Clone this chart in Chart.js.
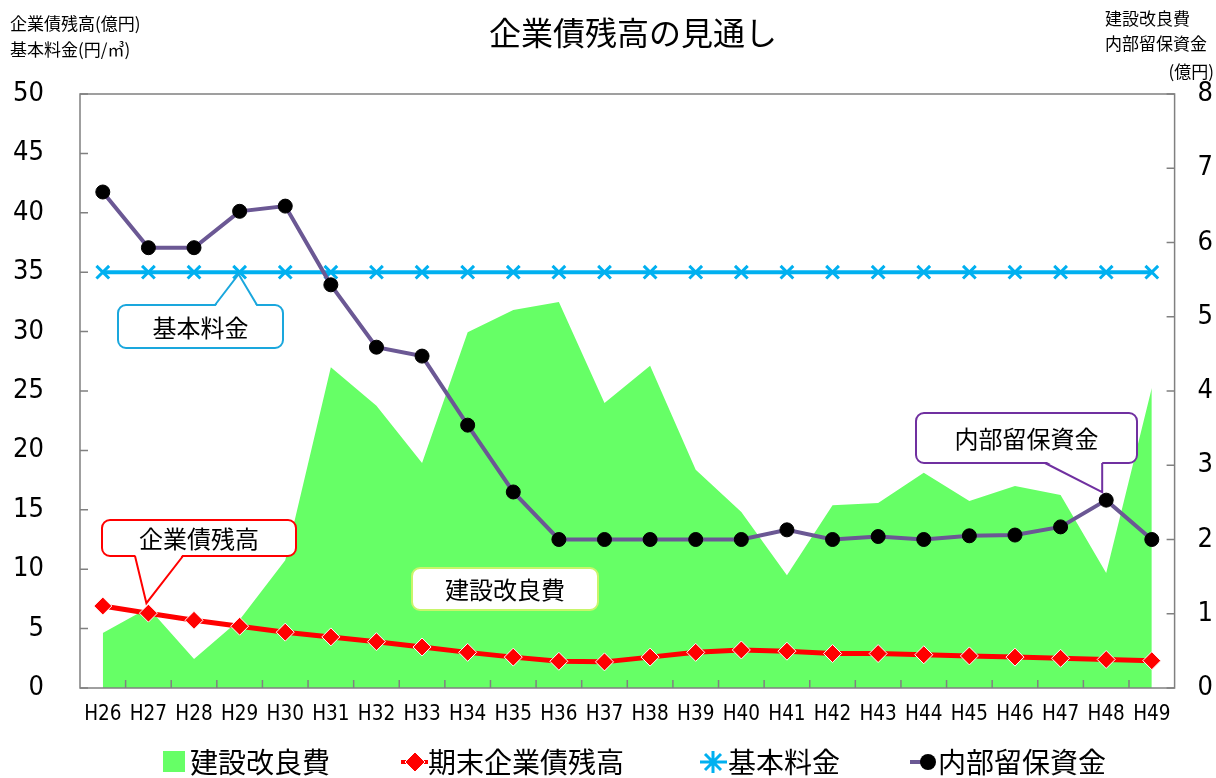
<!DOCTYPE html>
<html><head><meta charset="utf-8">
<script src="https://cdn.jsdelivr.net/npm/chart.js@4"></script>
<style>html,body{margin:0;padding:0;background:#fff}#wrap{width:1216px;height:778px}</style>
</head><body><div id="wrap"><canvas id="c" width="1216" height="778"></canvas></div>
<script>
const categories = ['H26','H27','H28','H29','H30','H31','H32','H33','H34','H35','H36','H37','H38','H39','H40','H41','H42','H43','H44','H45','H46','H47','H48','H49'];
// 建設改良費 (億円, right axis)
const capexValues = [0.74,1.08,0.39,0.92,1.72,4.32,3.80,3.03,4.79,5.09,5.20,3.84,4.34,2.94,2.37,1.52,2.46,2.49,2.90,2.52,2.72,2.60,1.55,4.04];
// 期末企業債残高 (億円, left axis)
const debtValues = [6.9,6.3,5.7,5.2,4.7,4.3,3.9,3.45,3.0,2.6,2.25,2.2,2.6,3.0,3.2,3.1,2.9,2.9,2.8,2.7,2.6,2.5,2.4,2.3];
// 基本料金 (円/㎥, left axis)
const basicFeeValues = [35,35,35,35,35,35,35,35,35,35,35,35,35,35,35,35,35,35,35,35,35,35,35,35];
// 内部留保資金 (億円, right axis)
const reserveValues = [6.68,5.93,5.93,6.42,6.49,5.43,4.59,4.47,3.54,2.64,2.0,2.0,2.0,2.0,2.0,2.13,2.0,2.04,2.0,2.05,2.06,2.17,2.53,2.0];
const leftAxisMax = 50, leftAxisStep = 5;
const rightAxisMax = 8, rightAxisStep = 1;
const seriesNames = ['建設改良費','期末企業債残高','基本料金','内部留保資金'];

const JP = "'Noto Sans CJK JP', 'Noto Sans', sans-serif";
const NUM = "'DejaVu Sans Condensed', 'Liberation Sans', sans-serif";
const GREEN = '#66ff66', RED = '#ff0000', BLUE = '#00b0f0', PURPLE = '#6b5894';

function roundRect(ctx, x, y, w, h, r) {
  ctx.beginPath();
  ctx.moveTo(x + r, y);
  ctx.lineTo(x + w - r, y); ctx.arcTo(x + w, y, x + w, y + r, r);
  ctx.lineTo(x + w, y + h - r); ctx.arcTo(x + w, y + h, x + w - r, y + h, r);
  ctx.lineTo(x + r, y + h); ctx.arcTo(x, y + h, x, y + h - r, r);
  ctx.lineTo(x, y + r); ctx.arcTo(x, y, x + r, y, r);
  ctx.closePath();
}
function callout(ctx, b, color, text, pointer) {
  ctx.save();
  ctx.lineWidth = 2; ctx.strokeStyle = color; ctx.fillStyle = '#fff';
  roundRect(ctx, b.x, b.y, b.w, b.h, 8);
  ctx.fill(); ctx.stroke();
  if (pointer) {
    const [p1, tip, p2] = pointer;
    const dir = tip[1] < p1[1] ? 2 : -2;
    ctx.beginPath();
    ctx.moveTo(p1[0], p1[1] + dir); ctx.lineTo(tip[0], tip[1]); ctx.lineTo(p2[0], p2[1] + dir); ctx.closePath();
    ctx.fill();
    ctx.beginPath();
    ctx.moveTo(p1[0], p1[1]); ctx.lineTo(tip[0], tip[1]); ctx.lineTo(p2[0], p2[1]);
    ctx.stroke();
  }
  ctx.fillStyle = '#000'; ctx.font = '24px ' + JP;
  ctx.textAlign = 'center'; ctx.textBaseline = 'middle';
  ctx.fillText(text, b.x + b.w / 2, b.y + b.h / 2 + 1);
  ctx.restore();
}

const decor = {
  id: 'decor',
  beforeDraw(chart) {
    const ctx = chart.ctx; ctx.save(); ctx.fillStyle = '#fff'; ctx.fillRect(0, 0, chart.width, chart.height); ctx.restore();
  },
  afterDatasetsDraw(chart) {
    const ctx = chart.ctx, a = chart.chartArea;
    const x = chart.scales.x, y = chart.scales.y, y1 = chart.scales.y1;
    ctx.save();
    ctx.strokeStyle = '#808080'; ctx.lineWidth = 1.5;
    ctx.strokeRect(a.left, a.top, a.right - a.left, a.bottom - a.top);
    ctx.beginPath();
    for (let v = 0; v <= leftAxisMax; v += leftAxisStep) { const py = y.getPixelForValue(v); ctx.moveTo(a.left, py); ctx.lineTo(a.left + 8, py); }
    for (let v = 0; v <= rightAxisMax; v += rightAxisStep) { const py = y1.getPixelForValue(v); ctx.moveTo(a.right, py); ctx.lineTo(a.right - 8, py); }
    const half = (x.getPixelForValue(1) - x.getPixelForValue(0)) / 2;
    for (let i = 1; i < categories.length; i++) { const px = x.getPixelForValue(i) - half; ctx.moveTo(px, a.bottom); ctx.lineTo(px, a.bottom - 8); }
    ctx.stroke();
    ctx.restore();

    const feePt = [x.getPixelForValue(3), y.getPixelForValue(basicFeeValues[3])];
    callout(ctx, {x: 118, y: 305, w: 165, h: 43}, '#1aa7dd', '基本料金', [[215, 305], [feePt[0] - 1, feePt[1] + 2], [257, 305]]);
    const debtPt = [x.getPixelForValue(1), y.getPixelForValue(debtValues[1])];
    callout(ctx, {x: 102, y: 520, w: 194, h: 36}, RED, '企業債残高', [[135, 556], [debtPt[0] - 2, debtPt[1] - 10], [183, 556]]);
    callout(ctx, {x: 412, y: 568, w: 186, h: 42}, '#c8f56a', '建設改良費', null);
    const resPt = [x.getPixelForValue(22), y1.getPixelForValue(reserveValues[22])];
    callout(ctx, {x: 916, y: 413, w: 221, h: 50}, '#7030a0', '内部留保資金', [[1045, 463], [resPt[0] - 4, resPt[1] - 8], [resPt[0] - 4, 463]]);
  },
  afterDraw(chart) {
    const ctx = chart.ctx;
    ctx.save();
    ctx.fillStyle = '#000'; ctx.textBaseline = 'middle';
    ctx.font = '32px ' + JP; ctx.textAlign = 'center';
    ctx.fillText('企業債残高の見通し', 633, 33);
    ctx.font = '17px ' + JP; ctx.textAlign = 'left';
    ctx.fillText('企業債残高(億円)', 10, 24);
    ctx.fillText('基本料金(円/㎥)', 10, 50);
    ctx.fillText('建設改良費', 1105, 19);
    ctx.fillText('内部留保資金', 1105, 44);
    ctx.textAlign = 'right';
    ctx.fillText('(億円)', 1214, 72);
    const ly = 762;
    ctx.textAlign = 'left'; ctx.font = '28px ' + JP;
    const ds = chart.data.datasets;
    ctx.fillStyle = ds[0].backgroundColor; ctx.fillRect(163, 751, 22, 21);
    ctx.fillStyle = '#000'; ctx.fillText(seriesNames[0], 190, ly);
    ctx.strokeStyle = RED; ctx.lineWidth = 4; ctx.beginPath(); ctx.moveTo(401, ly); ctx.lineTo(428, ly); ctx.stroke();
    ctx.fillStyle = RED; ctx.strokeStyle = '#fff'; ctx.lineWidth = 1;
    ctx.beginPath(); ctx.moveTo(415, ly - 10); ctx.lineTo(425, ly); ctx.lineTo(415, ly + 10); ctx.lineTo(405, ly); ctx.closePath(); ctx.fill(); ctx.stroke();
    ctx.fillStyle = '#000'; ctx.fillText(seriesNames[1], 428, ly);
    ctx.strokeStyle = BLUE; ctx.lineWidth = 3; ctx.beginPath();
    ctx.moveTo(700, ly); ctx.lineTo(727, ly);
    ctx.moveTo(713, ly - 11); ctx.lineTo(713, ly + 11);
    ctx.moveTo(705, ly - 8); ctx.lineTo(721, ly + 8);
    ctx.moveTo(721, ly - 8); ctx.lineTo(705, ly + 8);
    ctx.stroke();
    ctx.fillStyle = '#000'; ctx.fillText(seriesNames[2], 728, ly);
    ctx.strokeStyle = PURPLE; ctx.lineWidth = 4; ctx.beginPath(); ctx.moveTo(910, ly); ctx.lineTo(935, ly); ctx.stroke();
    ctx.fillStyle = '#000'; ctx.beginPath(); ctx.arc(928, ly, 8, 0, Math.PI * 2); ctx.fill();
    ctx.fillText(seriesNames[3], 938, ly);
    ctx.restore();
  }
};

new Chart(document.getElementById('c'), {
  data: {
    labels: categories,
    datasets: [
      { type: 'line', label: seriesNames[0], data: capexValues, yAxisID: 'y1', order: 4,
        fill: 'origin', backgroundColor: GREEN, borderWidth: 0, borderColor: GREEN, pointRadius: 0, tension: 0 },
      { type: 'line', label: seriesNames[1], data: debtValues, yAxisID: 'y', order: 1,
        borderColor: RED, borderWidth: 5, pointStyle: 'rectRot', pointRadius: 9, pointBackgroundColor: RED, pointBorderColor: '#fff', pointBorderWidth: 1, tension: 0, fill: false },
      { type: 'line', label: seriesNames[2], data: basicFeeValues, yAxisID: 'y', order: 3,
        borderColor: BLUE, borderWidth: 4, pointStyle: 'crossRot', pointRadius: 9, pointBorderColor: BLUE, pointBorderWidth: 3, tension: 0, fill: false },
      { type: 'line', label: seriesNames[3], data: reserveValues, yAxisID: 'y1', order: 2,
        borderColor: PURPLE, borderWidth: 4, pointStyle: 'circle', pointRadius: 7, pointBackgroundColor: '#000', pointBorderColor: '#000', pointBorderWidth: 1, tension: 0, fill: false }
    ]
  },
  options: {
    responsive: false, animation: false, devicePixelRatio: 1,
    layout: { padding: { top: 94, left: 0, right: 0, bottom: 0 } },
    plugins: { legend: { display: false }, title: { display: false }, tooltip: { enabled: false } },
    scales: {
      x: { type: 'category', offset: true, grid: { display: false, drawTicks: false }, border: { display: false },
        ticks: { color: '#000', font: { family: NUM, size: 20.5 }, padding: 14, maxRotation: 0, autoSkip: false },
        afterFit(s) { s.height = 90; } },
      y: { position: 'left', min: 0, max: leftAxisMax, grid: { display: false, drawTicks: false }, border: { display: false },
        ticks: { stepSize: leftAxisStep, color: '#000', font: { family: NUM, size: 27 }, padding: 36 },
        afterFit(s) { s.width = 80; } },
      y1: { position: 'right', min: 0, max: rightAxisMax, grid: { display: false, drawTicks: false }, border: { display: false },
        ticks: { stepSize: rightAxisStep, color: '#000', font: { family: NUM, size: 27 }, padding: 23 },
        afterFit(s) { s.width = 41.4; } }
    }
  },
  plugins: [decor]
});
</script>
</body></html>
